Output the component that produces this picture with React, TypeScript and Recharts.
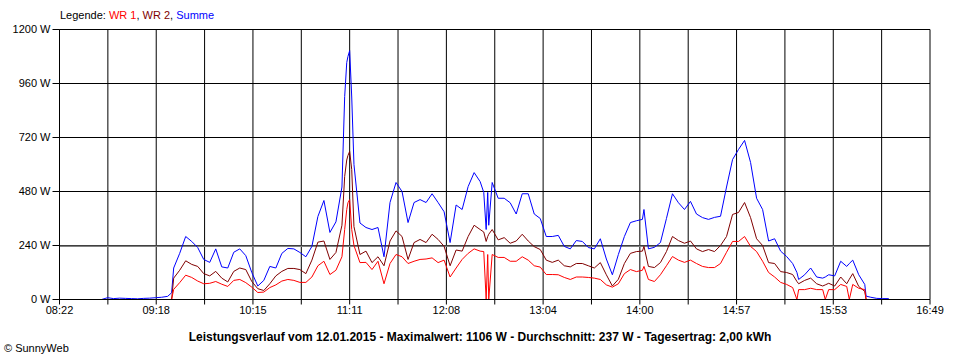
import { LineChart, Line, XAxis, YAxis, CartesianGrid, ReferenceLine } from "recharts"

// time of day in minutes (08:22 = 502)
const minutes = [
  526.5, 530, 533.5, 537, 540.5, 544, 547.5, 551, 554.5, 558,
  561.5, 565, 567.3, 568.5, 572, 575.5, 579, 582.5, 586, 589.5,
  593, 596.5, 600, 603.5, 607, 610.5, 614, 617.5, 621, 624.5,
  628, 631.5, 635, 638.5, 642, 645.5, 649, 652.5, 656, 659.5,
  663, 666.5, 668.1, 669.3, 670, 671, 672.2, 673.5, 677, 680.5,
  684, 687.5, 691, 694.5, 698, 701.5, 705, 708.5, 712, 715.5,
  719, 722.5, 726, 729.5, 733, 736.5, 740, 743.5, 747, 749.1,
  750.5, 751.4, 752, 754, 757.5, 761, 764.5, 768, 771.5, 775,
  778.5, 782, 785.5, 789, 792.5, 796, 799.5, 803, 806.5, 810,
  813.5, 817, 820.5, 824, 827.5, 831, 834.5, 838, 841.5, 842.4,
  845, 848.5, 852, 855.5, 859, 862.5, 866, 869.5, 873, 876.5,
  880, 883.5, 887, 890.5, 894, 897.5, 901, 904.5, 908, 911.5,
  915, 918.5, 922, 925.5, 929, 931.5, 932.5, 936, 939.5, 943,
  946.5, 948, 950, 953.5, 957, 960.5, 962, 964, 967.5, 971,
  971.8, 974.5, 978, 981.5, 985,
]

const summe = [
  0, 8, 4, 6, 5, 4, 3, 5, 6, 8,
  10, 14, 30, 140, 205, 280, 258, 231, 178, 165,
  225, 145, 140, 210, 225, 195, 120, 60, 85, 147,
  140, 205, 227, 225, 209, 190, 236, 369, 440, 298,
  345, 500, 902, 1053, 1080, 1106, 900, 600, 340, 320,
  311, 320, 190, 431, 520, 480, 342, 431, 444, 431,
  470, 431, 390, 253, 420, 400, 502, 564, 524, 476,
  311, 476, 330, 520, 450, 450, 430, 380, 470, 470,
  380, 360, 280, 280, 285, 236, 225, 262, 258, 231,
  225, 270, 180, 110, 200, 280, 342, 350, 356, 400,
  225, 232, 253, 360, 470, 430, 400, 436, 380, 364,
  356, 365, 370, 500, 622, 667, 707, 609, 450, 400,
  260, 270, 215, 191, 160, 120, 89, 110, 140, 100,
  95, 100, 110, 105, 170, 147, 160, 175, 110, 67,
  15, 10, 5, 4, 4,
]

const wr2 = [
  null, null, null, null, null, null, null, null, null, null,
  null, null, 0, 95, 130, 172, 156, 147, 115, 105,
  125, 95, 78, 125, 140, 133, 80, 48, 40, 70,
  105, 125, 138, 138, 133, 115, 175, 255, 260, 178,
  209, 330, 547, 620, 640, 658, 578, 324, 200, 215,
  164, 190, 150, 260, 305, 280, 178, 253, 267, 253,
  290, 267, 236, 150, 220, 215, 280, 330, 311, 300,
  258, 280, 290, 311, 265, 275, 250, 260, 290, 260,
  235, 222, 175, 165, 175, 150, 145, 160, 160, 150,
  140, 164, 110, 60, 90, 160, 205, 213, 215, 236,
  147, 142, 164, 213, 280, 262, 250, 260, 225, 213,
  222, 213, 240, 280, 378, 387, 431, 364, 270, 240,
  164, 160, 124, 120, 111, 80, 70, 85, 95, 70,
  60, 65, 72, 60, 100, 70, 90, 115, 58, 36,
  0, null, null, null, null,
]

const wr1 = [
  null, null, null, null, null, null, null, null, null, null,
  null, null, 0, 45, 75, 108, 98, 82, 70, 72,
  80, 68, 58, 85, 89, 75, 55, 31, 33, 53,
  65, 82, 89, 85, 76, 76, 100, 150, 170, 111,
  130, 190, 311, 400, 430, 444, 311, 240, 164, 165,
  133, 170, 70, 160, 200, 190, 160, 170, 178, 180,
  185, 164, 175, 100, 140, 178, 205, 225, 215, 213,
  0, 200, 0, 200, 187, 187, 170, 170, 190, 175,
  150, 144, 111, 111, 110, 98, 89, 100, 100, 98,
  95, 89, 65, 55, 70, 115, 133, 124, 130, 147,
  89, 80, 110, 150, 191, 175, 165, 175, 160, 147,
  142, 142, 160, 210, 258, 258, 280, 236, 213, 170,
  120, 100, 76, 67, 53, 0, 44, 44, 50, 44,
  44, 0, 44, 44, 67, 58, 0, 67, 50, 44,
  0, null, null, null, null,
]

const timeLabels = ["08:22", "09:18", "10:15", "11:11", "12:08", "13:04", "14:00", "14:57", "15:53", "16:49"]
const yTicks = [0, 240, 480, 720, 960, 1200]
const average = 237

const START = 502
const END = 1009
const xTicks = Array.from({ length: 19 }, (_, i) => START + (i * (END - START)) / 18)

const data = minutes.map((m, i) => ({ minute: m, summe: summe[i], wr2: wr2[i], wr1: wr1[i] }))

const font = '"Liberation Sans", Arial, sans-serif'

export default function App() {
  return (
    <div style={{ position: "relative", width: 960, height: 360, background: "#fff", fontFamily: font, color: "#000" }}>
      <style>{`body{margin:0}`}</style>
      <div style={{ position: "absolute", left: 60, top: 9, fontSize: 11, lineHeight: "13px" }}>
        Legende: <span style={{ color: "#ff0000" }}>WR 1</span>, <span style={{ color: "#800000" }}>WR 2</span>,{" "}
        <span style={{ color: "#0000ff" }}>Summe</span>
      </div>
      <LineChart width={960} height={360} data={data} margin={{ top: 29.5, right: 30, left: 0, bottom: 0 }}>
        <CartesianGrid stroke="#000" strokeWidth={1} horizontalValues={yTicks} verticalValues={xTicks} />
        <XAxis
          dataKey="minute"
          type="number"
          domain={[START, END]}
          ticks={xTicks}
          interval={0}
          height={60.5}
          tickSize={5}
          tickLine={{ stroke: "#000" }}
          axisLine={{ stroke: "#000" }}
          tick={{ fill: "#000", fontSize: 11, fontFamily: font }}
          tickFormatter={(v, i) => (i % 2 === 0 ? timeLabels[i / 2] : "")}
        />
        <YAxis
          type="number"
          domain={[0, 1200]}
          ticks={yTicks}
          interval={0}
          width={59.5}
          tickSize={7}
          tickLine={{ stroke: "#000" }}
          axisLine={{ stroke: "#000" }}
          tick={{ fill: "#000", fontSize: 11, fontFamily: font }}
          tickFormatter={(v) => `${v} W`}
        />
        <ReferenceLine y={average} stroke="#808080" strokeWidth={1.5} />
        <Line dataKey="summe" stroke="#0000ff" strokeWidth={1} dot={false} isAnimationActive={false} />
        <Line dataKey="wr2" stroke="#800000" strokeWidth={1} dot={false} isAnimationActive={false} />
        <Line dataKey="wr1" stroke="#ff0000" strokeWidth={1} dot={false} isAnimationActive={false} />
      </LineChart>
      <div
        style={{
          position: "absolute",
          left: 0,
          width: 960,
          top: 330,
          textAlign: "center",
          fontWeight: "bold",
          fontSize: 12,
          lineHeight: "14px",
        }}
      >
        Leistungsverlauf vom 12.01.2015 - Maximalwert: 1106 W - Durchschnitt: 237 W - Tagesertrag: 2,00 kWh
      </div>
      <div style={{ position: "absolute", left: 4, top: 342, fontSize: 11, lineHeight: "13px" }}>© SunnyWeb</div>
    </div>
  )
}
